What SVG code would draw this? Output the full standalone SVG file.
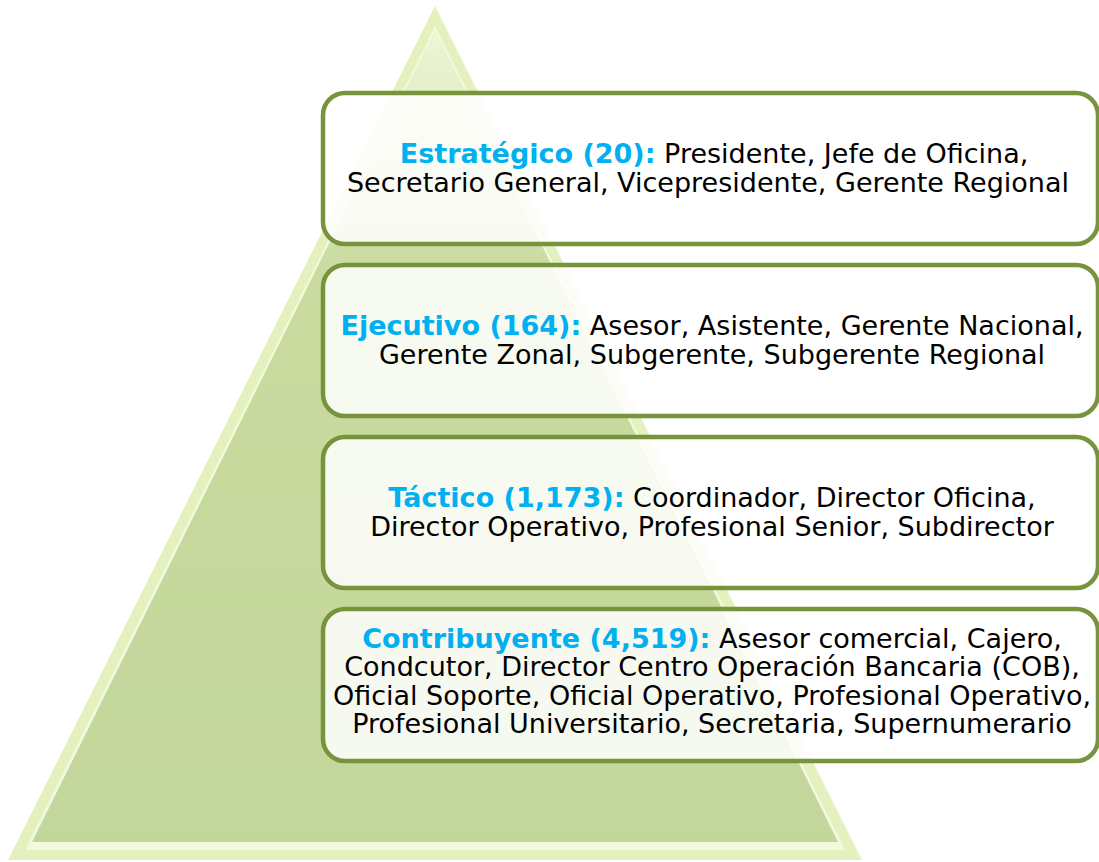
<svg xmlns="http://www.w3.org/2000/svg" width="1099" height="862" viewBox="0 0 1099 862">
<defs>
<linearGradient id="pg" x1="0" y1="0" x2="0" y2="1">
<stop offset="0" stop-color="#EEF6D6"/>
<stop offset="0.3" stop-color="#C9DB9F"/>
<stop offset="1" stop-color="#C3D69B"/>
</linearGradient>
<style>
.box{fill:#FFFFFF;fill-opacity:0.85;stroke:#77933C;stroke-width:4.5}
.t{font-family:"DejaVu Sans",Verdana,sans-serif;font-size:27px;fill:#000;text-anchor:middle}
.h{fill:#00B0F0;font-weight:bold}
</style>
</defs>
<rect width="1099" height="862" fill="#FFFFFF"/>
<g id="pyramid">
<polygon points="435,6 862,860 8,860" fill="#E4F1BF"/>
<polygon points="435,26 845,850 25,850" fill="#F2F9DC"/>
<polygon points="435,30 838,842 32,842" fill="url(#pg)"/>
</g>
<g id="estrategico">
<rect class="box" x="323" y="93" width="775" height="151" rx="22"/>
<text class="t" x="714" y="163"><tspan class="h">Estratégico (20):</tspan> Presidente, Jefe de Oficina,</text>
<text class="t" x="708" y="192">Secretario General, Vicepresidente, Gerente Regional</text>
</g>
<g id="ejecutivo">
<rect class="box" x="323" y="265" width="775" height="151" rx="22"/>
<text class="t" x="712" y="335"><tspan class="h">Ejecutivo (164):</tspan> Asesor, Asistente, Gerente Nacional,</text>
<text class="t" x="712" y="364">Gerente Zonal, Subgerente, Subgerente Regional</text>
</g>
<g id="tactico">
<rect class="box" x="323" y="437" width="775" height="151" rx="22"/>
<text class="t" x="712" y="507"><tspan class="h">Táctico (1,173):</tspan> Coordinador, Director Oficina,</text>
<text class="t" x="712" y="536">Director Operativo, Profesional Senior, Subdirector</text>
</g>
<g id="contribuyente">
<rect class="box" x="323" y="609" width="775" height="152" rx="22"/>
<text class="t" x="712" y="648"><tspan class="h">Contribuyente (4,519):</tspan> Asesor comercial, Cajero,</text>
<text class="t" x="712" y="676">Condcutor, Director Centro Operación Bancaria (COB),</text>
<text class="t" x="712" y="705">Oficial Soporte, Oficial Operativo, Profesional Operativo,</text>
<text class="t" x="712" y="733">Profesional Universitario, Secretaria, Supernumerario</text>
</g>
<g id="connectors"></g>
</svg>
